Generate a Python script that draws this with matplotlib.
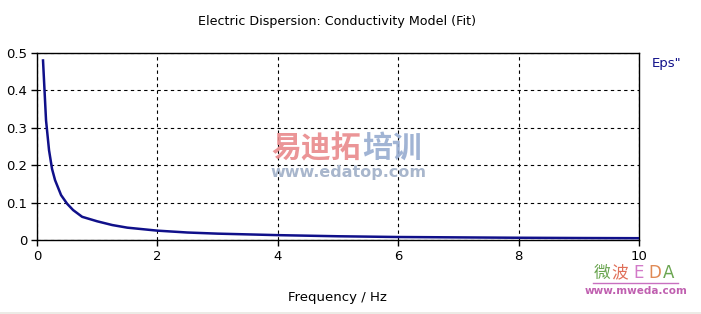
import matplotlib
matplotlib.use("Agg")
import matplotlib.pyplot as plt

freq = [0.1, 0.15, 0.2, 0.25, 0.3, 0.4, 0.5, 0.6, 0.75, 1.0, 1.25, 1.5,
        2.0, 2.5, 3.0, 4.0, 5.0, 6.0, 7.0, 8.0, 9.0, 10.0]
eps2 = [0.48, 0.32, 0.24, 0.19, 0.16, 0.12, 0.097, 0.08, 0.062, 0.05, 0.04, 0.033,
        0.025, 0.02, 0.017, 0.013, 0.01, 0.008, 0.007, 0.006, 0.0053, 0.0048]
xticks = [0, 2, 4, 6, 8, 10]
yticks = [0, 0.1, 0.2, 0.3, 0.4, 0.5]
yticklabels = ["0", "0.1", "0.2", "0.3", "0.4", "0.5"]

W, H = 701, 314
fig = plt.figure(figsize=(W / 100, H / 100), dpi=100)
fig.patch.set_facecolor("white")
ax = fig.add_axes([37 / W, 1 - 240 / H, (639 - 37) / W, (240 - 53) / H])

ax.plot(freq, eps2, color="#10108a", lw=1.8, zorder=3)
ax.set_xlim(0, 10)
ax.set_ylim(0, 0.5)
ax.set_xticks(xticks)
ax.set_yticks(yticks)
ax.set_yticklabels(yticklabels)
ax.grid(True, color="black", linestyle=(0, (3, 3)), lw=0.8)
for s in ax.spines.values():
    s.set_linewidth(1.0)
    s.set_color("black")
ax.tick_params(direction="out", length=4, width=1, labelsize=9.5, colors="black", pad=3)

fig.text(337 / W, 1 - 21 / H, "Electric Dispersion: Conductivity Model (Fit)",
         ha="center", va="center", fontsize=9.1)
fig.text(337 / W, 1 - 297 / H, "Frequency / Hz", ha="center", va="center", fontsize=9.5)
fig.text(652 / W, 1 - 63 / H, 'Eps"', ha="left", va="center", fontsize=9.5, color="#10108a")

cjk = ["Noto Sans CJK SC", "DejaVu Sans"]
# watermark
fig.text(271 / W, 1 - 148 / H, "易迪拓", ha="left", va="center", fontsize=21.5,
         fontweight="bold", family=cjk, color="#e98a8c", alpha=0.9)
fig.text(362 / W, 1 - 148 / H, "培训", ha="left", va="center", fontsize=21.5,
         fontweight="bold", family=cjk, color="#97acd0", alpha=0.9)
fig.text(348 / W, 1 - 173 / H, "www.edatop.com", ha="center", va="center", fontsize=11.5,
         fontweight="bold", color="#a8b6cc")

wy = 1 - 273 / H
fig.text(594 / W, wy, "微", ha="left", va="center", fontsize=12, family=cjk, color="#6aa550")
fig.text(611 / W, wy, "波", ha="left", va="center", fontsize=12, family=cjk, color="#e0705a")
fig.text(633 / W, wy, "E", ha="left", va="center", fontsize=12, color="#d27ac8")
fig.text(648 / W, wy, "D", ha="left", va="center", fontsize=12, color="#e08a55")
fig.text(663 / W, wy, "A", ha="left", va="center", fontsize=12, color="#6aa550")
fig.add_artist(plt.Line2D([593 / W, 678 / W], [1 - 283 / H, 1 - 283 / H], color="#c870c0", lw=1))
fig.text(636 / W, 1 - 291 / H, "www.mweda.com", ha="center", va="center", fontsize=7.5,
         fontweight="bold", color="#c060b0")

fig.add_artist(plt.Rectangle((0, 0), 1, 2 / H, transform=fig.transFigure,
                             color="#ecebe6", lw=0))

fig.savefig("out.png", dpi=100)
